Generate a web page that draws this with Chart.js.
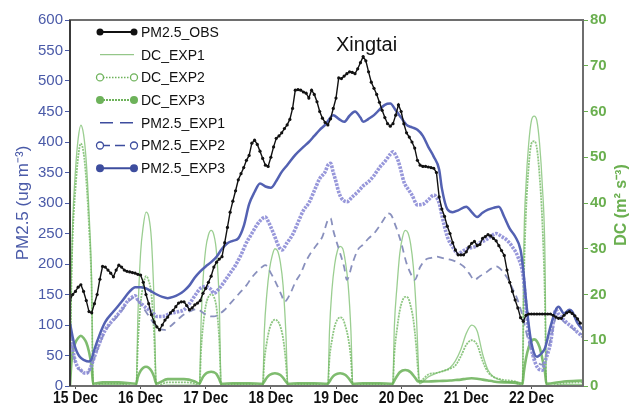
<!DOCTYPE html>
<html>
<head>
<meta charset="utf-8">
<script src="https://cdn.jsdelivr.net/npm/chart.js@4.4.1/dist/chart.umd.min.js"></script>
<style>
  html, body { margin: 0; padding: 0; background: #fff; }
  #wrap { width: 640px; height: 405px; }
</style>
</head>
<body>
<div id="wrap"><canvas id="chart" width="640" height="405"></canvas></div>
<script>
// hours since 15 Dec 00:00
const dayTicks = [0, 24, 48, 72, 96, 120, 144, 168];
const dayLabels = ['15 Dec', '16 Dec', '17 Dec', '18 Dec', '19 Dec', '20 Dec', '21 Dec', '22 Dec'];

// observed PM2.5, hourly from hour -2
const obsStartHour = -2;
const obsValues = [
  141, 150, 155, 162, 166, 155, 140, 122, 120, 135,
  150, 175, 196, 195, 190, 185, 179, 190, 198, 195,
  190, 188, 187, 186, 185, 183, 182, 170, 150, 135,
  117, 105, 97, 92, 100, 108, 113, 120, 124, 130,
  136, 138, 138, 132, 125, 128, 133, 136, 140, 152,
  160, 170, 180, 195, 203, 208, 212, 235, 260, 285,
  303, 320, 338, 348, 358, 370, 378, 398, 403, 396,
  385, 373, 362, 360, 375, 392, 406, 410, 415, 422,
  428, 437, 455, 485, 486, 485, 482, 480, 472, 485,
  478, 466, 450, 439, 432, 428, 438, 455, 472, 505,
  504, 508, 512, 515, 514, 512, 520, 530, 540, 533,
  515, 498, 488, 478, 465, 452, 440, 430, 426, 430,
  444, 461, 450, 430, 415, 408, 400, 390, 370, 362,
  360, 360, 359, 358, 357, 350, 310, 290, 278, 262,
  250, 235, 223, 215, 215, 215, 220, 228, 234, 237,
  230, 232, 242, 245, 248, 246, 242, 238, 230, 222,
  214, 190, 170, 155, 141, 128, 112, 106, 116, 118,
  118, 118, 118, 118, 118, 118, 118, 118, 116, 113,
  111, 111, 116, 120, 122, 119, 115, 110, 103
];

// simulated PM2.5 [hour, value]
const pmExp1 = [
  [-2, 88], [-1, 58], [0, 38], [1, 29], [2, 25], [3, 21], [4, 20], [5, 24], [6, 34], [7, 46],
  [9, 70], [11, 90], [13, 102], [15, 112], [17, 123], [19, 136], [21, 144], [22, 146], [23, 140],
  [25, 128], [27, 115], [29, 102], [31, 94], [33, 92], [35, 98], [37, 106], [39, 114], [41, 120],
  [43, 124], [45, 126], [47, 120], [49, 115], [51, 114], [53, 118], [55, 125], [57, 135], [59, 145],
  [61, 155], [63, 165], [65, 178], [67, 188], [69, 196], [70, 198], [72, 185], [74, 168], [76, 148],
  [77, 138], [79, 150], [81, 170], [83, 185], [85, 205], [87, 220], [89, 232], [91, 245], [93, 272],
  [94, 275], [95, 255], [97, 225], [99, 195], [100, 174], [102, 200], [104, 223], [106, 232],
  [108, 242], [110, 250], [112, 262], [114, 276], [115, 283], [116, 282], [118, 262], [120, 235],
  [122, 201], [124, 180], [125, 174], [127, 195], [129, 207], [131, 210], [133, 212], [135, 210],
  [137, 208], [139, 206], [141, 202], [143, 196], [145, 185], [147, 174], [149, 180], [151, 185],
  [153, 192], [155, 196], [157, 190], [159, 178], [161, 160], [163, 140], [165, 110], [166, 90],
  [167, 72], [168, 58], [170, 40], [172, 35], [173, 45], [175, 75], [177, 112], [178, 115],
  [180, 105], [182, 98], [183, 95], [185, 88], [187, 84]
];
const pmExp2 = [
  [-2, 90], [-1, 60], [0, 40], [1, 30], [2, 26], [3, 22], [4, 21], [5, 25], [6, 35], [7, 48],
  [9, 72], [11, 92], [13, 104], [15, 114], [17, 125], [19, 138], [21, 146], [22, 148], [23, 141],
  [25, 132], [27, 125], [29, 118], [30, 114], [32, 114], [35, 119], [38, 122], [40, 125], [42, 135],
  [44, 148], [46, 160], [48, 163], [50, 158], [51, 152], [53, 160], [55, 172], [57, 185], [59, 198],
  [61, 215], [63, 235], [65, 250], [67, 265], [69, 275], [70, 277], [71, 270], [73, 250], [75, 228],
  [76, 223], [78, 235], [80, 248], [82, 268], [84, 288], [86, 300], [88, 320], [90, 340], [92, 351],
  [93, 362], [94, 365], [95, 350], [96, 335], [97, 318], [98, 308], [100, 302], [102, 310],
  [104, 318], [106, 328], [108, 335], [110, 345], [112, 358], [114, 368], [116, 380], [117, 384],
  [118, 378], [119, 368], [120, 352], [121, 335], [123, 320], [124, 313], [126, 297], [128, 298],
  [130, 305], [132, 313], [134, 300], [135, 280], [137, 245], [139, 228], [141, 217], [143, 222],
  [145, 226], [147, 228], [149, 235], [151, 239], [153, 245], [155, 250], [157, 245], [159, 239],
  [161, 228], [163, 212], [165, 179], [166, 130], [167, 86], [168, 60], [170, 32], [172, 26],
  [173, 40], [175, 70], [177, 125], [178, 118], [180, 108], [182, 100], [183, 97], [185, 88], [187, 81]
];
const pmExp3 = [
  [-2, 103], [-1, 80], [0, 62], [1, 52], [2, 46], [3, 43], [5, 40], [6, 45], [7, 60], [9, 85],
  [11, 105], [14, 122], [17, 138], [20, 155], [22, 162], [24, 162], [26, 160], [28, 155], [30, 150],
  [32, 146], [34, 144], [36, 146], [38, 150], [40, 156], [42, 165], [44, 178], [46, 188], [48, 196],
  [50, 203], [52, 212], [54, 225], [56, 234], [58, 238], [60, 242], [62, 262], [64, 298], [66, 318],
  [68, 332], [70, 327], [72, 325], [74, 336], [76, 351], [78, 362], [81, 379], [84, 392], [86, 400],
  [88, 410], [90, 420], [92, 428], [95, 444], [97, 438], [99, 433], [101, 443], [103, 450],
  [105, 440], [106, 433], [108, 438], [110, 444], [112, 453], [114, 461], [116, 463], [118, 452],
  [120, 440], [122, 428], [124, 424], [126, 420], [128, 410], [130, 392], [132, 376], [134, 355],
  [135, 324], [137, 290], [139, 285], [141, 288], [144, 294], [146, 285], [148, 277], [150, 284],
  [152, 289], [154, 292], [156, 294], [158, 277], [160, 258], [162, 245], [164, 223], [165, 190],
  [166, 141], [167, 100], [168, 70], [170, 48], [172, 55], [173, 62], [175, 97], [177, 125],
  [178, 130], [180, 119], [182, 125], [183, 122], [185, 103], [187, 92]
];

// simulated DC, shared hours
const dcHours = [
  -2, -1.5, -1, 0, 1, 2, 3, 4, 5, 6, 6.5, 10, 16,
  22.4, 23, 24, 25, 26, 27, 28, 29, 29.8, 34, 40, 44,
  45.7, 46.3, 47, 48, 49, 50, 51, 52, 53, 53.7, 58, 64,
  69, 69.6, 70.5, 71.5, 72.5, 73.5, 74.5, 75.5, 76.5, 77.5, 78.3, 82, 88,
  93, 93.6, 94.5, 95.5, 96.5, 97.5, 98.5, 99.5, 100.5, 101.5, 102.2, 106, 112,
  116.9, 117.5, 118.5, 119.5, 120.5, 121.5, 122.5, 123.5, 124.5, 125.5, 126.2, 126.7,
  130, 134, 138, 140, 142, 144, 146, 148, 150, 152, 154, 158, 162,
  164.7, 165.2, 166, 167, 168, 169, 170, 171, 172, 173, 173.5, 180, 187
];
const dcExp1 = [
  0, 24, 36, 47, 54, 57, 55, 49, 38, 22, 0, 0.3, 0.3,
  0, 15, 29, 35, 38, 37, 32, 18, 0, 0.2, 0.2, 0.2,
  0, 14, 23, 30, 33, 34, 33, 29, 18, 0, 0.2, 0.2,
  0, 12, 20, 25.5, 28.5, 30, 29.5, 27, 22, 12, 0, 0.2, 0.2,
  0, 12, 21, 26.5, 29.5, 30.5, 30, 27, 22, 12, 0, 0.2, 0.2,
  0, 13, 22, 29, 32.5, 34, 33.5, 31, 26, 17, 7, 0.5,
  2, 3, 4, 5.5, 8, 11.5, 13.3, 12, 7, 3.5, 2, 1, 0.5,
  0, 30, 44, 53, 58, 59, 58, 53, 44, 28, 0, 0.3, 0.3
];
const dcExp2 = [
  0, 22, 33, 43, 50, 53, 51, 45, 35, 20, 0, 0.5, 0.5,
  0, 9, 18, 22, 24, 23, 20, 11, 0, 0.8, 0.8, 0.5,
  0, 8, 13, 17.5, 19.5, 20, 19.5, 17, 10, 0, 0.4, 0.4,
  0, 5.5, 9.5, 12.5, 14, 14.5, 14.2, 13, 10.5, 5.5, 0, 0.4, 0.4,
  0, 6, 10, 13, 14.5, 15, 14.7, 13, 10.5, 6, 0, 0.4, 0.4,
  0, 7, 12.5, 16.5, 18.7, 19.5, 19.3, 17.5, 14.5, 9, 3.5, 1,
  2.5, 3, 3.8, 4.5, 6.5, 9, 10, 9, 5.5, 3, 2, 1.3, 1,
  0, 22, 38, 48, 53, 53.5, 52, 46, 36, 18, 0, 0.6, 0.8
];
const dcExp3 = [
  0, 5, 7.5, 9.5, 10.5, 11, 10.5, 9.5, 7.5, 4, 0.5, 0.8, 0.8,
  0.5, 2, 3.3, 4, 4.2, 4, 3.3, 2, 0.5, 1.5, 1.5, 1,
  0.5, 1.2, 2, 2.7, 3, 3.1, 3, 2.6, 1.5, 0.5, 0.6, 0.6,
  0.5, 1, 1.8, 2.4, 2.7, 2.8, 2.7, 2.4, 1.8, 1, 0.5, 0.6, 0.6,
  0.5, 1, 1.8, 2.4, 2.7, 2.8, 2.7, 2.4, 1.8, 1, 0.5, 0.6, 0.6,
  0.5, 1.2, 2.2, 3, 3.4, 3.5, 3.4, 3, 2.3, 1.5, 1, 1,
  1, 1.1, 1.2, 1.3, 1.4, 1.6, 1.7, 1.6, 1.4, 1.2, 1, 0.8, 0.8,
  0.5, 3, 6, 8.5, 9.8, 10.2, 9.8, 8.5, 6, 3, 0.5, 1, 1.2
];

const BLUE = '#4a5aa8';
const GREEN = '#6aaf4f';
const SANS = "'Liberation Sans', Arial, sans-serif";

const pairs = (list) => list.map(([x, y]) => ({ x, y }));
const obsData = obsValues.map((y, i) => ({ x: obsStartHour + i, y }));
const dcData = (vals) => dcHours.map((x, i) => ({ x, y: vals[i] }));

const legendItems = [
  { text: 'PM2.5_OBS', color: '#111', width: 2, dash: [], marker: 'fill', r: 3.5 },
  { text: 'DC_EXP1', color: '#7dbb6e', width: 1, dash: [], marker: null },
  { text: 'DC_EXP2', color: '#6db25a', width: 1.5, dash: [1.5, 1.5], marker: 'open', r: 3.5 },
  { text: 'DC_EXP3', color: '#6db25a', width: 2, dash: [2, 1], marker: 'fill', r: 4 },
  { text: 'PM2.5_EXP1', color: '#3d4d9e', width: 1.5, dash: [13, 7], marker: null },
  { text: 'PM2.5_EXP2', color: '#3d4d9e', width: 1.5, dash: [10, 5], marker: 'open', r: 3.5 },
  { text: 'PM2.5_EXP3', color: '#3d4d9e', width: 2, dash: [], marker: 'fill', r: 4 }
];

const decorations = {
  id: 'decorations',
  afterDraw(chart) {
    const { ctx, chartArea: a } = chart;
    ctx.save();
    // frame
    ctx.strokeStyle = '#6e6e6e';
    ctx.lineWidth = 2;
    ctx.setLineDash([]);
    ctx.strokeRect(a.left, a.top, a.right - a.left, a.bottom - a.top);
    ctx.strokeStyle = '#3a3a3a';
    ctx.beginPath();
    ctx.moveTo(a.left, a.top);
    ctx.lineTo(a.left, a.bottom);
    ctx.stroke();

    // condensed day labels on the x scale
    const xs = chart.scales.x;
    ctx.fillStyle = '#111';
    ctx.font = 'bold 17px ' + SANS;
    ctx.textAlign = 'center';
    ctx.textBaseline = 'top';
    dayTicks.forEach((v, i) => {
      const px = xs.getPixelForValue(v);
      ctx.save();
      ctx.translate(px, a.bottom + 4);
      ctx.scale(0.82, 1);
      ctx.fillText(dayLabels[i], 0, 0);
      ctx.restore();
    });

    // station name
    ctx.fillStyle = '#111';
    ctx.font = '20px ' + SANS;
    ctx.textAlign = 'left';
    ctx.textBaseline = 'alphabetic';
    ctx.fillText('Xingtai', 336, 51);

    // axis titles
    ctx.save();
    ctx.translate(23, 203);
    ctx.rotate(-Math.PI / 2);
    ctx.textAlign = 'center';
    ctx.textBaseline = 'middle';
    ctx.fillStyle = BLUE;
    ctx.font = '17px ' + SANS;
    ctx.fillText('PM2.5 (ug m\u207B\u00B3)', 0, 0);
    ctx.restore();

    ctx.save();
    ctx.translate(622, 205);
    ctx.rotate(-Math.PI / 2);
    ctx.textAlign = 'center';
    ctx.textBaseline = 'middle';
    ctx.fillStyle = GREEN;
    ctx.font = 'bold 16px ' + SANS;
    ctx.fillText('DC (m\u00B2 s\u207B\u00B3)', 0, 0);
    ctx.restore();

    // legend
    const x0 = 100, x1 = 134, tx = 141, y0 = 32, step = 22.7;
    legendItems.forEach((it, i) => {
      const y = y0 + i * step;
      ctx.strokeStyle = it.color;
      ctx.lineWidth = it.width;
      ctx.setLineDash(it.dash);
      ctx.beginPath();
      ctx.moveTo(x0, y);
      ctx.lineTo(x1, y);
      ctx.stroke();
      ctx.setLineDash([]);
      if (it.marker) {
        [x0, x1].forEach((mx) => {
          ctx.beginPath();
          ctx.arc(mx, y, it.r, 0, Math.PI * 2);
          if (it.marker === 'fill') {
            ctx.fillStyle = it.color;
            ctx.fill();
          } else {
            ctx.fillStyle = '#fff';
            ctx.fill();
            ctx.lineWidth = 1.3;
            ctx.strokeStyle = it.color;
            ctx.stroke();
          }
        });
      }
      ctx.fillStyle = '#111';
      ctx.font = '14px ' + SANS;
      ctx.textAlign = 'left';
      ctx.textBaseline = 'middle';
      ctx.fillText(it.text, tx, y + 1);
    });
    ctx.restore();
  }
};

new Chart(document.getElementById('chart'), {
  type: 'line',
  data: {
    datasets: [
      {
        label: 'PM2.5_OBS', data: obsData, yAxisID: 'y', order: 0,
        borderColor: '#111', borderWidth: 1.4, tension: 0,
        pointRadius: 1.6, pointBackgroundColor: '#111', pointBorderWidth: 0
      },
      {
        label: 'PM2.5_EXP3', data: pairs(pmExp3), yAxisID: 'y', order: 1,
        borderColor: '#5361b2', borderWidth: 2.5, pointRadius: 0,
        cubicInterpolationMode: 'monotone'
      },
      {
        label: 'PM2.5_EXP2', data: pairs(pmExp2), yAxisID: 'y', order: 2,
        borderColor: 'rgba(140,140,214,0.9)', borderWidth: 3.6, borderDash: [2.5, 1.2],
        pointRadius: 0, cubicInterpolationMode: 'monotone'
      },
      {
        label: 'PM2.5_EXP1', data: pairs(pmExp1), yAxisID: 'y', order: 3,
        borderColor: '#8990bd', borderWidth: 1.8, borderDash: [7, 5],
        pointRadius: 0, cubicInterpolationMode: 'monotone'
      },
      {
        label: 'DC_EXP3', data: dcData(dcExp3), yAxisID: 'y1', order: 4,
        borderColor: 'rgba(104,176,86,0.85)', borderWidth: 2.6,
        pointRadius: 0, cubicInterpolationMode: 'monotone'
      },
      {
        label: 'DC_EXP2', data: dcData(dcExp2), yAxisID: 'y1', order: 5,
        borderColor: 'rgba(112,184,98,0.8)', borderWidth: 1.8, borderDash: [2, 1],
        pointRadius: 0, cubicInterpolationMode: 'monotone'
      },
      {
        label: 'DC_EXP1', data: dcData(dcExp1), yAxisID: 'y1', order: 6,
        borderColor: 'rgba(130,194,118,0.8)', borderWidth: 1.3,
        pointRadius: 0, cubicInterpolationMode: 'monotone'
      }
    ]
  },
  options: {
    responsive: false,
    animation: false,
    devicePixelRatio: 1,
    layout: { padding: { top: 20, left: 0, right: 0, bottom: 0 } },
    plugins: {
      legend: { display: false },
      tooltip: { enabled: false },
      title: { display: false }
    },
    scales: {
      x: {
        type: 'linear',
        min: -2,
        max: 187,
        afterBuildTicks: (scale) => { scale.ticks = dayTicks.map((v) => ({ value: v })); },
        afterFit: (scale) => { scale.height = 19; },
        border: { display: false },
        grid: { drawOnChartArea: false, tickLength: 3, color: '#555', tickColor: '#555' },
        ticks: { display: false }
      },
      y: {
        position: 'left',
        min: 0,
        max: 600,
        afterFit: (scale) => { scale.width = 70; },
        border: { display: false },
        grid: { drawOnChartArea: false, tickLength: 5, color: BLUE, tickColor: BLUE },
        ticks: {
          stepSize: 50, padding: 2, color: BLUE,
          font: { family: SANS, size: 15 }
        }
      },
      y1: {
        position: 'right',
        min: 0,
        max: 80,
        afterFit: (scale) => { scale.width = 57; },
        border: { display: false },
        grid: { drawOnChartArea: false, tickLength: 5, color: GREEN, tickColor: GREEN },
        ticks: {
          stepSize: 10, padding: 2, color: GREEN,
          font: { family: SANS, size: 15, weight: 'bold' }
        }
      }
    }
  },
  plugins: [decorations]
});
</script>
</body>
</html>
